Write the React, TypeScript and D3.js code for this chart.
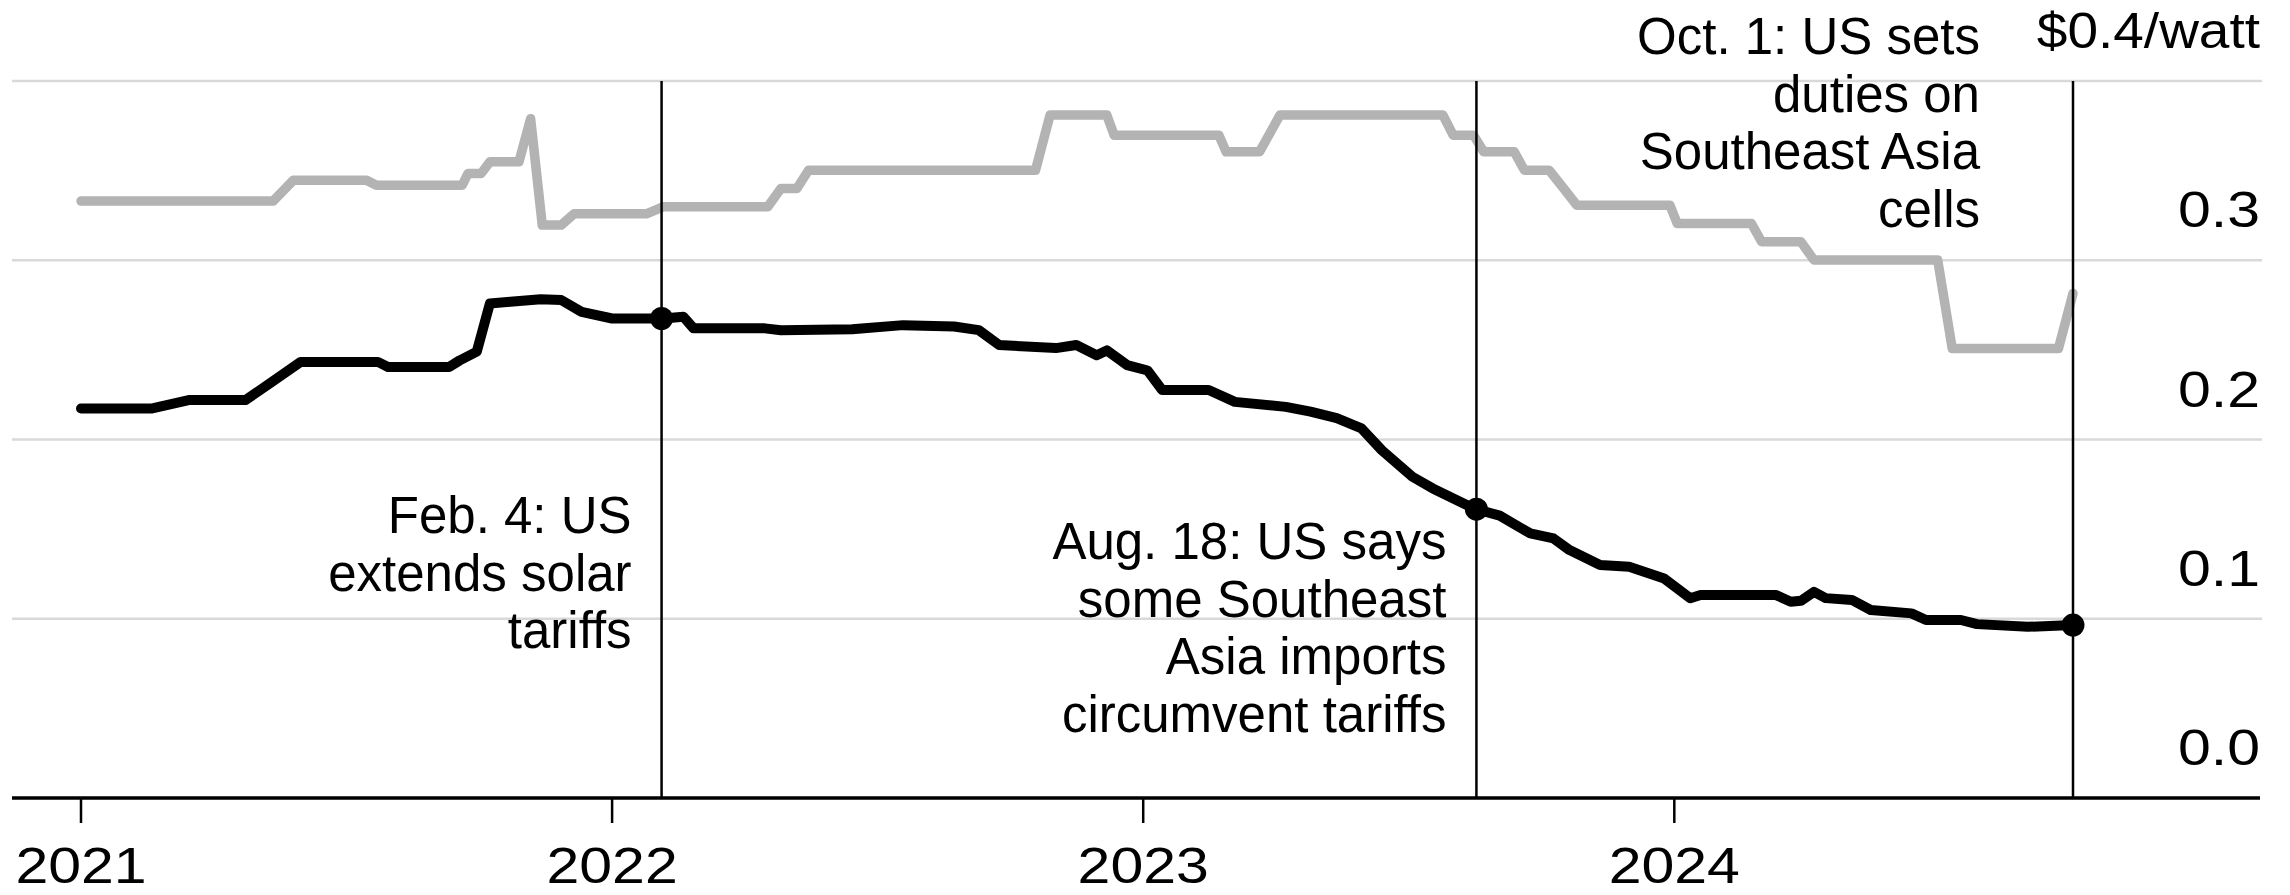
import React from "react";
import * as d3 from "d3";

// ---------- data ----------
const grayDates = [
  "2021-01-01", "2021-05-13", "2021-05-27", "2021-07-16", "2021-07-23", "2021-09-20",
  "2021-09-24", "2021-10-03", "2021-10-09", "2021-10-29", "2021-11-06", "2021-11-14",
  "2021-11-27", "2021-12-06", "2022-01-25", "2022-02-05", "2022-04-18", "2022-04-27",
  "2022-05-08", "2022-05-16", "2022-10-19", "2022-10-29", "2022-12-07", "2022-12-12",
  "2023-02-22", "2023-02-27", "2023-03-22", "2023-04-05", "2023-07-26", "2023-08-02",
  "2023-08-16", "2023-08-23", "2023-09-13", "2023-09-20", "2023-10-07", "2023-10-17",
  "2023-10-26", "2023-12-29", "2024-01-03", "2024-02-23", "2024-03-01", "2024-03-28",
  "2024-04-06", "2024-06-30", "2024-07-10", "2024-09-21", "2024-10-01",
];
const grayValues = [
  0.333, 0.333, 0.3447, 0.3447, 0.3419, 0.3419,
  0.3484, 0.3484, 0.3549, 0.3549, 0.379, 0.3196,
  0.3196, 0.326, 0.326, 0.3298, 0.3298, 0.34,
  0.34, 0.3502, 0.3502, 0.381, 0.381, 0.3698,
  0.3698, 0.3605, 0.3605, 0.381, 0.381, 0.3698,
  0.3698, 0.3605, 0.3605, 0.3502, 0.3502, 0.34,
  0.3307, 0.3307, 0.3205, 0.3205, 0.3103, 0.3103,
  0.3001, 0.3001, 0.2508, 0.2508, 0.2815,
];

const blackDates = [
  "2021-01-01", "2021-02-19", "2021-03-16", "2021-04-24", "2021-05-11", "2021-06-01",
  "2021-07-24", "2021-07-31", "2021-09-11", "2021-09-18", "2021-09-30", "2021-10-09",
  "2021-10-23", "2021-11-13", "2021-11-27", "2021-12-11", "2022-01-01", "2022-02-05",
  "2022-02-19", "2022-02-26", "2022-04-16", "2022-04-27", "2022-06-15", "2022-07-20",
  "2022-08-24", "2022-09-10", "2022-09-24", "2022-11-02", "2022-11-16", "2022-11-30",
  "2022-12-07", "2022-12-21", "2023-01-04", "2023-01-14", "2023-02-15", "2023-03-05",
  "2023-04-09", "2023-04-26", "2023-05-14", "2023-05-31", "2023-06-14", "2023-07-05",
  "2023-07-19", "2023-08-16", "2023-09-03", "2023-09-24", "2023-10-10", "2023-10-21",
  "2023-11-11", "2023-12-01", "2023-12-25", "2024-01-12", "2024-01-19", "2024-03-11",
  "2024-03-21", "2024-03-28", "2024-04-06", "2024-04-14", "2024-05-02", "2024-05-15",
  "2024-06-12", "2024-06-22", "2024-07-16", "2024-07-27", "2024-08-31", "2024-10-01",
];
const blackValues = [
  0.2173, 0.2173, 0.222, 0.222, 0.2314, 0.2433,
  0.2433, 0.2405, 0.2405, 0.244, 0.249, 0.2759,
  0.2768, 0.2783, 0.2778, 0.2712, 0.2675, 0.2675,
  0.2685, 0.262, 0.262, 0.261, 0.2615, 0.2638,
  0.263, 0.261, 0.2527, 0.251, 0.2527, 0.247,
  0.2497, 0.2415, 0.2385, 0.2276, 0.2276, 0.221,
  0.2182, 0.2155, 0.2119, 0.2062, 0.194, 0.1792,
  0.1727, 0.1616, 0.1575, 0.1476, 0.1448, 0.1383,
  0.13, 0.129, 0.1225, 0.1114, 0.1132, 0.1132,
  0.1095, 0.11, 0.115, 0.1115, 0.1105, 0.1049,
  0.103, 0.0993, 0.0993, 0.097, 0.0955, 0.0965,
];

const eventDates = ["2022-02-04", "2023-08-18", "2024-10-01"];
const eventLabels = [
  ["Feb. 4: US", "extends solar", "tariffs"],
  ["Aug. 18: US says", "some Southeast", "Asia imports", "circumvent tariffs"],
  ["Oct. 1: US sets", "duties on", "Southeast Asia", "cells"],
];

const yTicks = [0, 0.1, 0.2, 0.3, 0.4];
const yTickLabels = ["0.0", "0.1", "0.2", "0.3", "$0.4/watt"];
const xTickYears = [2021, 2022, 2023, 2024];

// ---------- layout ----------
const W = 2290;
const H = 895;
const FONT = "'Liberation Sans', Arial, Helvetica, sans-serif";
const FS = 50;
const FS_NOTE = 51;
const NUM_STRETCH = 1.18;
const LINE_H = 57.5;
const labelLayout = [
  { dx: -30, firstBaseline: 533 },
  { dx: -30, firstBaseline: 559 },
  { dx: -93, firstBaseline: 54 },
];

const parse = d3.timeParse("%Y-%m-%d");

export default function App() {
  const x = d3
    .scaleTime()
    .domain([new Date(2021, 0, 1), new Date(2024, 9, 1)])
    .range([81, 2073]);
  const y = d3.scaleLinear().domain([0, 0.4]).range([798, 81]);

  const gray = grayDates.map((d, i) => ({ date: parse(d)!, value: grayValues[i] }));
  const black = blackDates.map((d, i) => ({ date: parse(d)!, value: blackValues[i] }));

  const line = d3
    .line<{ date: Date; value: number }>()
    .x((d) => x(d.date))
    .y((d) => y(d.value));

  const bis = d3.bisector((d: { date: Date }) => d.date).left;
  const interp = (dt: Date) => {
    const i = bis(black, dt);
    if (i <= 0) return black[0].value;
    if (i >= black.length) return black[black.length - 1].value;
    const a = black[i - 1];
    const b = black[i];
    const t = (+dt - +a.date) / (+b.date - +a.date);
    return a.value + t * (b.value - a.value);
  };

  const gridLeft = 12;
  const gridRight = 2262;

  return (
    <svg
      width={W}
      height={H}
      viewBox={`0 0 ${W} ${H}`}
      style={{ position: "absolute", left: 0, top: 0, background: "#fff" }}
      fontFamily={FONT}
    >
      <rect x={0} y={0} width={W} height={H} fill="#fff" />
      {/* gridlines */}
      {yTicks
        .filter((t) => t > 0)
        .map((t) => (
          <line
            key={"g" + t}
            x1={gridLeft}
            x2={gridRight}
            y1={y(t)}
            y2={y(t)}
            stroke="#d9d9d9"
            strokeWidth={2.5}
          />
        ))}
      {/* y labels */}
      {yTicks.map((t, i) => (
        <text
          key={"yl" + t}
          transform={`translate(2260,${y(t) - 33}) scale(${i === 4 ? 1.1 : NUM_STRETCH},1)`}
          textAnchor="end"
          fontSize={FS}
          fill="#000"
        >
          {yTickLabels[i]}
        </text>
      ))}
      {/* gray series */}
      <path
        d={line(gray) || ""}
        fill="none"
        stroke="#b3b3b3"
        strokeWidth={9.5}
        strokeLinejoin="round"
        strokeLinecap="round"
      />
      {/* event lines */}
      {eventDates.map((d) => {
        const ex = x(parse(d)!);
        return (
          <line
            key={"ev" + d}
            x1={ex}
            x2={ex}
            y1={y(0.4)}
            y2={y(0)}
            stroke="#000"
            strokeWidth={2.5}
          />
        );
      })}
      {/* black series */}
      <path
        d={line(black) || ""}
        fill="none"
        stroke="#000"
        strokeWidth={10}
        strokeLinejoin="round"
        strokeLinecap="round"
      />
      {/* dots */}
      {eventDates.map((d) => {
        const dt = parse(d)!;
        return <circle key={"dot" + d} cx={x(dt)} cy={y(interp(dt))} r={11.5} fill="#000" />;
      })}
      {/* event labels */}
      {eventDates.map((d, i) => {
        const ex = x(parse(d)!);
        const L = labelLayout[i];
        return (
          <text key={"lab" + d} textAnchor="end" fontSize={FS_NOTE} fill="#000">
            {eventLabels[i].map((ln, j) => (
              <tspan key={j} x={ex + L.dx} y={L.firstBaseline + j * LINE_H}>
                {ln}
              </tspan>
            ))}
          </text>
        );
      })}
      {/* x axis */}
      <line x1={gridLeft} x2={2260} y1={y(0)} y2={y(0)} stroke="#000" strokeWidth={3.5} />
      {xTickYears.map((yr) => {
        const tx = x(new Date(yr, 0, 1));
        return (
          <g key={"xt" + yr}>
            <line x1={tx} x2={tx} y1={y(0)} y2={y(0) + 25} stroke="#000" strokeWidth={2.5} />
            <text
              transform={`translate(${tx},883) scale(${NUM_STRETCH},1)`}
              textAnchor="middle"
              fontSize={FS}
              fill="#000"
            >
              {String(yr)}
            </text>
          </g>
        );
      })}
    </svg>
  );
}
